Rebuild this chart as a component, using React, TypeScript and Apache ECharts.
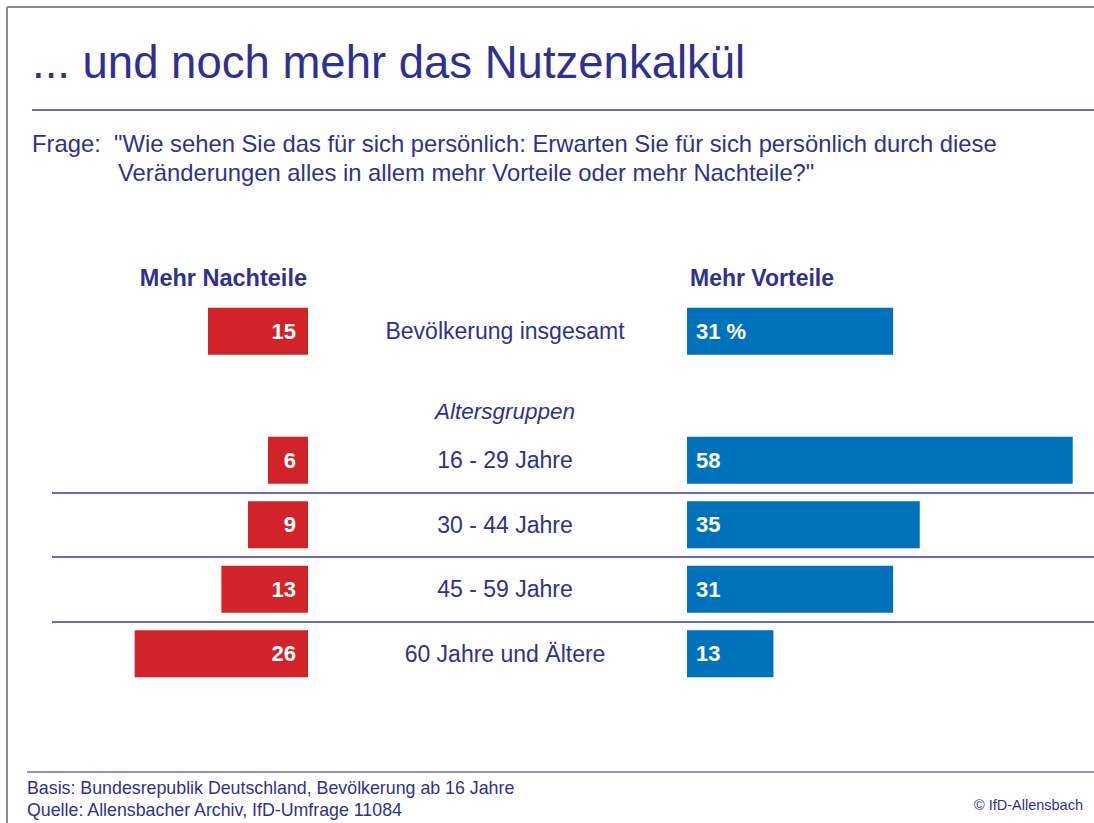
import React, { useEffect, useRef } from 'react';
import * as echarts from 'echarts';

const categories = [
  'Bevölkerung insgesamt',
  'Altersgruppen',
  '16 - 29 Jahre',
  '30 - 44 Jahre',
  '45 - 59 Jahre',
  '60 Jahre und Ältere',
];
const nachteile: (number | null)[] = [15, null, 6, 9, 13, 26];
const vorteile: (number | null)[] = [31, null, 58, 35, 31, 13];
const sectionLabelIndex = 1;
const separatorBoundaries = [3, 4, 5];

const TEXT = '#2e3192';
const RED = '#d2232a';
const BLUE = '#0072bc';
const FONT = '"Liberation Sans", Arial, sans-serif';

export default function App() {
  const ref = useRef<HTMLDivElement>(null);
  useEffect(() => {
    if (!ref.current) return;
    const chart = echarts.init(ref.current, null, { renderer: 'svg' });
    const top = 299;
    const height = 387;
    chart.setOption({
      animation: false,
      backgroundColor: '#ffffff',
      textStyle: { fontFamily: FONT },
      grid: [
        { left: 8, top, width: 300, height },
        { left: 687, top, width: 399, height },
        { left: 52, top, right: 0, height },
      ],
      xAxis: [
        { gridIndex: 0, type: 'value', min: 0, max: 45, inverse: true, show: false },
        { gridIndex: 1, type: 'value', min: 0, max: 60, show: false },
        { gridIndex: 2, type: 'value', min: 0, max: 1, show: false },
      ],
      yAxis: [
        {
          gridIndex: 0,
          type: 'category',
          data: categories,
          inverse: true,
          position: 'right',
          axisLine: { show: false },
          axisTick: { show: false },
          splitLine: { show: false },
          axisLabel: {
            margin: 197,
            align: 'center',
            color: TEXT,
            fontSize: 23,
            fontFamily: FONT,
            formatter: (v: string, i: number) => (i === sectionLabelIndex ? `{sec|${v}}` : v),
            rich: {
              sec: {
                fontStyle: 'italic',
                fontSize: 22.5,
                color: TEXT,
                fontFamily: FONT,
                padding: [31, 0, 0, 0],
              },
            },
          },
        },
        { gridIndex: 1, type: 'category', data: categories, inverse: true, show: false },
        { gridIndex: 2, type: 'value', min: 0, max: 6, inverse: true, show: false },
      ],
      series: [
        {
          type: 'bar',
          xAxisIndex: 0,
          yAxisIndex: 0,
          data: nachteile,
          barWidth: 47,
          itemStyle: { color: RED },
          label: {
            show: true,
            position: 'insideRight',
            distance: 12,
            color: '#ffffff',
            fontWeight: 'bold',
            fontSize: 22,
            fontFamily: FONT,
          },
        },
        {
          type: 'bar',
          xAxisIndex: 1,
          yAxisIndex: 1,
          data: vorteile,
          barWidth: 47,
          itemStyle: { color: BLUE },
          label: {
            show: true,
            position: 'insideLeft',
            distance: 9,
            color: '#ffffff',
            fontWeight: 'bold',
            fontSize: 22,
            fontFamily: FONT,
            formatter: (p: any) => (p.dataIndex === 0 ? `${p.value} %` : `${p.value}`),
          },
        },
        {
          type: 'line',
          xAxisIndex: 2,
          yAxisIndex: 2,
          data: [],
          silent: true,
          markLine: {
            silent: true,
            symbol: 'none',
            label: { show: false },
            lineStyle: { color: '#3a3a94', width: 1.5, type: 'solid' },
            data: separatorBoundaries.map((b) => ({ yAxis: b })),
          },
        },
      ],
      graphic: [
        { type: 'line', shape: { x1: 7, y1: 7, x2: 1094, y2: 7 }, style: { stroke: '#8c8c8c', lineWidth: 2 } },
        { type: 'line', shape: { x1: 7, y1: 7, x2: 7, y2: 823 }, style: { stroke: '#8c8c8c', lineWidth: 2 } },
        { type: 'line', shape: { x1: 32, y1: 110, x2: 1094, y2: 110 }, style: { stroke: '#3a3a8c', lineWidth: 1.5 } },
        { type: 'line', shape: { x1: 27, y1: 772, x2: 1094, y2: 772 }, style: { stroke: '#6c6cb0', lineWidth: 1.5 } },
        {
          type: 'text', x: 32, y: 62,
          style: { text: '... und noch mehr das Nutzenkalkül', fill: TEXT, fontSize: 45.5, fontFamily: FONT, align: 'left', verticalAlign: 'middle' },
        },
        {
          type: 'text', x: 32, y: 143,
          style: { text: 'Frage:  "Wie sehen Sie das für sich persönlich: Erwarten Sie für sich persönlich durch diese', fill: TEXT, fontSize: 23.8, fontFamily: FONT, align: 'left', verticalAlign: 'middle' },
        },
        {
          type: 'text', x: 118, y: 172,
          style: { text: 'Veränderungen alles in allem mehr Vorteile oder mehr Nachteile?"', fill: TEXT, fontSize: 23.8, fontFamily: FONT, align: 'left', verticalAlign: 'middle' },
        },
        {
          type: 'text', x: 307, y: 278,
          style: { text: 'Mehr Nachteile', fill: TEXT, fontSize: 23.5, fontWeight: 'bold', fontFamily: FONT, align: 'right', verticalAlign: 'middle' },
        },
        {
          type: 'text', x: 690, y: 278,
          style: { text: 'Mehr Vorteile', fill: TEXT, fontSize: 23, fontWeight: 'bold', fontFamily: FONT, align: 'left', verticalAlign: 'middle' },
        },
        {
          type: 'text', x: 27, y: 788,
          style: { text: 'Basis: Bundesrepublik Deutschland, Bevölkerung ab 16 Jahre', fill: TEXT, fontSize: 17.8, fontFamily: FONT, align: 'left', verticalAlign: 'middle' },
        },
        {
          type: 'text', x: 27, y: 810,
          style: { text: 'Quelle: Allensbacher Archiv, IfD-Umfrage 11084', fill: TEXT, fontSize: 17.8, fontFamily: FONT, align: 'left', verticalAlign: 'middle' },
        },
        {
          type: 'text', x: 1083, y: 805,
          style: { text: '© IfD-Allensbach', fill: TEXT, fontSize: 14.5, fontFamily: FONT, align: 'right', verticalAlign: 'middle' },
        },
      ],
    });
    return () => chart.dispose();
  }, []);
  return (
    <div
      ref={ref}
      style={{ position: 'absolute', left: 0, top: 0, width: 1094, height: 823 }}
    />
  );
}
